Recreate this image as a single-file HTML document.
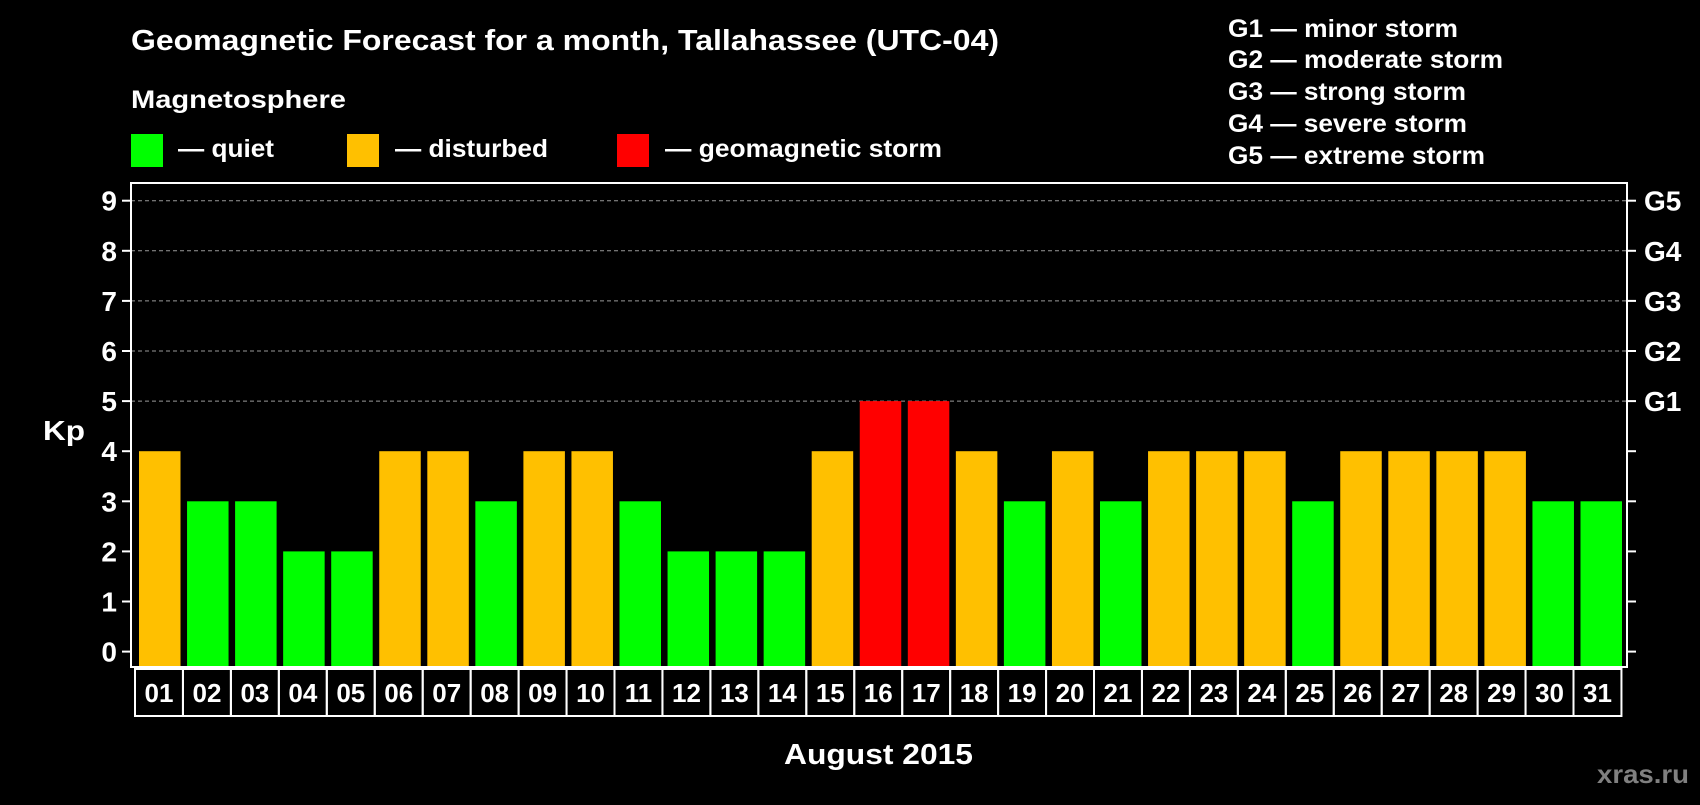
<!DOCTYPE html>
<html><head><meta charset="utf-8"><style>
body{margin:0;background:#000;width:1700px;height:800px;overflow:hidden;font-family:"Liberation Sans",sans-serif;font-weight:bold;color:#fff}
svg text{font-family:"Liberation Sans",sans-serif;font-weight:bold;fill:#fff}
</style></head><body>
<svg width="1700" height="800">
<text x="131" y="50" font-size="29" textLength="868" lengthAdjust="spacingAndGlyphs">Geomagnetic Forecast for a month, Tallahassee (UTC-04)</text>
<text x="131" y="108" font-size="25" textLength="215" lengthAdjust="spacingAndGlyphs">Magnetosphere</text>
<rect x="131" y="134" width="32" height="33" fill="#00ff00"/>
<text x="178" y="157" font-size="25" textLength="96" lengthAdjust="spacingAndGlyphs">— quiet</text>
<rect x="347" y="134" width="32" height="33" fill="#ffc000"/>
<text x="395" y="157" font-size="25" textLength="153" lengthAdjust="spacingAndGlyphs">— disturbed</text>
<rect x="617" y="134" width="32" height="33" fill="#ff0000"/>
<text x="665" y="157" font-size="25" textLength="277" lengthAdjust="spacingAndGlyphs">— geomagnetic storm</text>
<g font-size="25">
<text x="1228" y="37" textLength="230" lengthAdjust="spacingAndGlyphs">G1 — minor storm</text>
<text x="1228" y="68" textLength="275" lengthAdjust="spacingAndGlyphs">G2 — moderate storm</text>
<text x="1228" y="100" textLength="238" lengthAdjust="spacingAndGlyphs">G3 — strong storm</text>
<text x="1228" y="132" textLength="239" lengthAdjust="spacingAndGlyphs">G4 — severe storm</text>
<text x="1228" y="164" textLength="257" lengthAdjust="spacingAndGlyphs">G5 — extreme storm</text>
</g>
<text x="43" y="440" font-size="28" textLength="42" lengthAdjust="spacingAndGlyphs">Kp</text>
<text x="784" y="764" font-size="29" textLength="189" lengthAdjust="spacingAndGlyphs">August 2015</text>
<text x="1597" y="783" font-size="26" textLength="92" lengthAdjust="spacingAndGlyphs" style="fill:#808080">xras.ru</text>
<g id="plot"></g>
</svg>
<script>
const days=["01","02","03","04","05","06","07","08","09","10","11","12","13","14","15","16","17","18","19","20","21","22","23","24","25","26","27","28","29","30","31"];
const kp=[4,3,3,2,2,4,4,3,4,4,3,2,2,2,4,5,5,4,3,4,3,4,4,4,3,4,4,4,4,3,3];
const yTicks=[0,1,2,3,4,5,6,7,8,9];
const gLabels=["G1","G2","G3","G4","G5"];
const NS="http://www.w3.org/2000/svg";
const g=document.getElementById('plot');
const L=131,R=1627,T=183,B=667;
const y=v=>651.6-v*50.1;
const x=i=>139+i*48.05;
function mk(t,a){const e=document.createElementNS(NS,t);for(const k in a)e.setAttribute(k,a[k]);g.appendChild(e);return e;}
yTicks.forEach(v=>{
 if(v>=5){const l=mk('line',{x1:L,x2:R,y1:y(v),y2:y(v),stroke:'#999','stroke-dasharray':'4,3','stroke-width':1});
 
 }
 const t1=mk('line',{x1:L-9,x2:L,y1:y(v),y2:y(v),stroke:'#fff','stroke-width':2});
 
 
 const t2=mk('line',{x1:R,x2:R+9,y1:y(v),y2:y(v),stroke:'#fff','stroke-width':2});
 
 
 const tx=mk('text',{x:117,y:y(v)+10,'font-size':28,'text-anchor':'end'});tx.textContent=v;
 
 
});
gLabels.forEach((s,i)=>{const t=mk('text',{x:1644,y:y(5+i)+10,'font-size':28});t.textContent=s;
 
 });
kp.forEach((v,i)=>{
 const c=v>=5?'#ff0000':v>=4?'#ffc000':'#00ff00';
 const r=mk('rect',{x:x(i),y:y(v),width:41.5,height:B-1-y(v),fill:c});
 
 
 const b=mk('rect',{x:135+i*47.95,y:669,width:47.95,height:47,fill:'none',stroke:'#fff','stroke-width':2});
 
 
 const t=mk('text',{x:159+i*47.95,y:702,'font-size':26,'text-anchor':'middle'});t.textContent=days[i];
 
 
});
const fr=mk('rect',{x:L,y:T,width:R-L,height:B-T,fill:'none',stroke:'#fff','stroke-width':2});


</script>
</body></html>
